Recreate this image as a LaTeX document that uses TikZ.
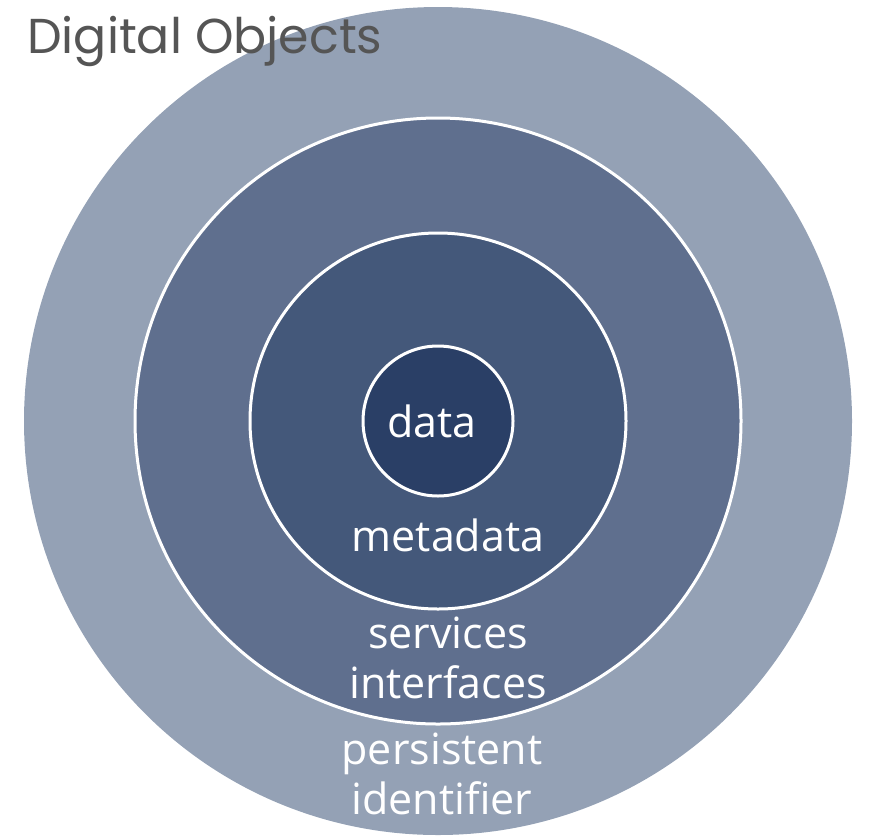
\documentclass[tikz,border=0pt]{standalone}
\usepackage{fontspec}
\setmainfont{Open Sans}
\newfontfamily\headfont{Poppins}
\usetikzlibrary{positioning}

\definecolor{pidblue}{HTML}{94A1B5}
\definecolor{serviceblue}{HTML}{5F6F8E}
\definecolor{metablue}{HTML}{44587A}
\definecolor{datablue}{HTML}{2A3F66}
\definecolor{headgray}{HTML}{555555}

\begin{document}
\begin{tikzpicture}[x=1pt,y=-1pt,
    ring/.style={circle,inner sep=0pt,draw=white,line width=3pt},
    lbl/.style={text=white,anchor=base,inner sep=0pt,font=\fontsize{43}{50}\selectfont}]

      \useasboundingbox (0,0) rectangle (869,836);
      \coordinate (c) at (438,421);

      % layers, from the outside in
      \node (pid) [ring,draw=none,fill=pidblue,minimum size=828pt] at (c) {};
      \node (services) [ring,fill=serviceblue,minimum size=606pt] at (c) {};
      \node (meta) [ring,fill=metablue,minimum size=376pt] at (c) {};
      \node (data) [ring,fill=datablue,minimum size=150pt] at (c) {};

      \node (title) [anchor=base west,inner sep=0pt,text=headgray,
        font=\headfont\fontsize{49}{55}\selectfont] at (27,53) {Digital Objects};

      \node (datalbl) [lbl] at (432,437) {data};
      \node (metalbl) [lbl] at (448,551) {metadata};
      \node (servlbl) [lbl] at (448,648) {services};
      \node (intlbl) [lbl] at (448,698) {interfaces};
      \node (pidlbl) [lbl] at (442,764) {persistent};
      \node (idlbl) [lbl] at (442,814) {identifier};
    \end{tikzpicture}
\end{document}
